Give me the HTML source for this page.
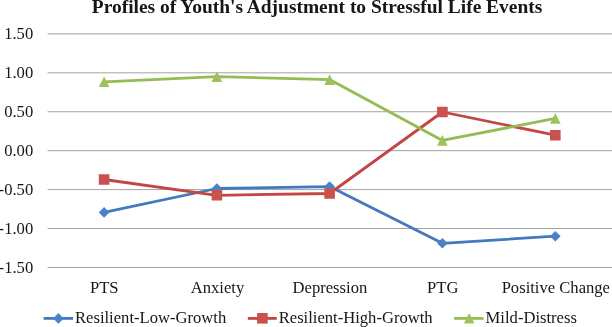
<!DOCTYPE html>
<html><head><meta charset="utf-8"><style>
html,body{margin:0;padding:0;background:#fff;}
body{width:612px;height:327px;overflow:hidden;}
svg{display:block;will-change:transform;}
text{font-family:"Liberation Serif",serif;fill:#161616;}
.ax{font-size:16.6px;}
.tt{font-size:19.45px;font-weight:bold;}
</style></head><body>
<svg width="612" height="327" viewBox="0 0 612 327">
<rect width="612" height="327" fill="#fff"/>
<text class="tt" x="91.8" y="12.55">Profiles of Youth's Adjustment to Stressful Life Events</text>
<g stroke="#a2a2a2" stroke-width="1.0">
<line x1="47.6" y1="33.90" x2="612" y2="33.90"/>
<line x1="47.6" y1="72.82" x2="612" y2="72.82"/>
<line x1="47.6" y1="111.74" x2="612" y2="111.74"/>
<line x1="47.6" y1="150.66" x2="612" y2="150.66"/>
<line x1="47.6" y1="189.58" x2="612" y2="189.58"/>
<line x1="47.6" y1="228.50" x2="612" y2="228.50"/>
<line x1="47.6" y1="267.42" x2="612" y2="267.42"/>
</g>
<g class="ax" text-anchor="end">
<text transform="translate(33.2,39.40) scale(1,1.05)">1.50</text>
<text transform="translate(33.2,78.32) scale(1,1.05)">1.00</text>
<text transform="translate(33.2,117.24) scale(1,1.05)">0.50</text>
<text transform="translate(33.2,156.16) scale(1,1.05)">0.00</text>
<text transform="translate(33.2,195.08) scale(1,1.05)">-0.50</text>
<text transform="translate(33.2,234.00) scale(1,1.05)">-1.00</text>
<text transform="translate(33.2,272.92) scale(1,1.05)">-1.50</text>
</g>
<g class="ax" text-anchor="middle">
<text transform="translate(104.2,292.7) scale(1,1.05)">PTS</text>
<text transform="translate(217.5,292.7) scale(1,1.05)">Anxiety</text>
<text transform="translate(329.9,292.7) scale(1,1.05)">Depression</text>
<text transform="translate(442.7,292.7) scale(1,1.05)">PTG</text>
<text transform="translate(555.8,292.7) scale(1,1.05)">Positive Change</text>
</g>
<polyline fill="none" stroke="#4279bf" stroke-width="2.8" stroke-linejoin="round" stroke-linecap="round" points="104.10,212.40 216.90,188.50 329.60,186.60 442.40,243.30 555.30,236.20"/>
<path fill="#4b83c6" d="M104.10,207.10 L109.40,212.40 L104.10,217.70 L98.80,212.40Z M216.90,183.20 L222.20,188.50 L216.90,193.80 L211.60,188.50Z M329.60,181.30 L334.90,186.60 L329.60,191.90 L324.30,186.60Z M442.40,238.00 L447.70,243.30 L442.40,248.60 L437.10,243.30Z M555.30,230.90 L560.60,236.20 L555.30,241.50 L550.00,236.20Z"/>
<polyline fill="none" stroke="#c44643" stroke-width="2.8" stroke-linejoin="round" stroke-linecap="round" points="104.10,179.50 216.90,195.30 329.60,193.50 442.40,112.00 555.30,135.20"/>
<path fill="#c9514e" d="M98.80,174.20 H109.40 V184.80 H98.80Z M211.60,190.00 H222.20 V200.60 H211.60Z M324.30,188.20 H334.90 V198.80 H324.30Z M437.10,106.70 H447.70 V117.30 H437.10Z M550.00,129.90 H560.60 V140.50 H550.00Z"/>
<polyline fill="none" stroke="#95bb52" stroke-width="2.8" stroke-linejoin="round" stroke-linecap="round" points="104.10,81.80 216.90,76.60 329.60,79.60 442.40,140.40 555.30,118.40"/>
<path fill="#9cc35b" d="M104.10,76.50 L109.40,87.10 L98.80,87.10Z M216.90,71.30 L222.20,81.90 L211.60,81.90Z M329.60,74.30 L334.90,84.90 L324.30,84.90Z M442.40,135.10 L447.70,145.70 L437.10,145.70Z M555.30,113.10 L560.60,123.70 L550.00,123.70Z"/>

<line x1="43.6" y1="318.4" x2="73" y2="318.4" stroke="#4279bf" stroke-width="2.8"/>
<path d="M58.40,313.10 L63.70,318.40 L58.40,323.70 L53.10,318.40Z" fill="#4b83c6"/>
<text class="ax" transform="translate(75,323.35) scale(1,1.05)">Resilient-Low-Growth</text>
<line x1="247.8" y1="318.4" x2="276.8" y2="318.4" stroke="#c44643" stroke-width="2.8"/>
<path d="M257.10,313.00 H267.70 V323.60 H257.10Z" fill="#c9514e"/>
<text class="ax" transform="translate(278.7,323.35) scale(1,1.05)">Resilient-High-Growth</text>
<line x1="454.1" y1="318.4" x2="483.5" y2="318.4" stroke="#95bb52" stroke-width="2.8"/>
<path d="M469.20,313.00 L474.50,323.60 L463.90,323.60Z" fill="#9cc35b"/>
<text class="ax" transform="translate(485.6,323.35) scale(1,1.05)">Mild-Distress</text>
</svg>
</body></html>
